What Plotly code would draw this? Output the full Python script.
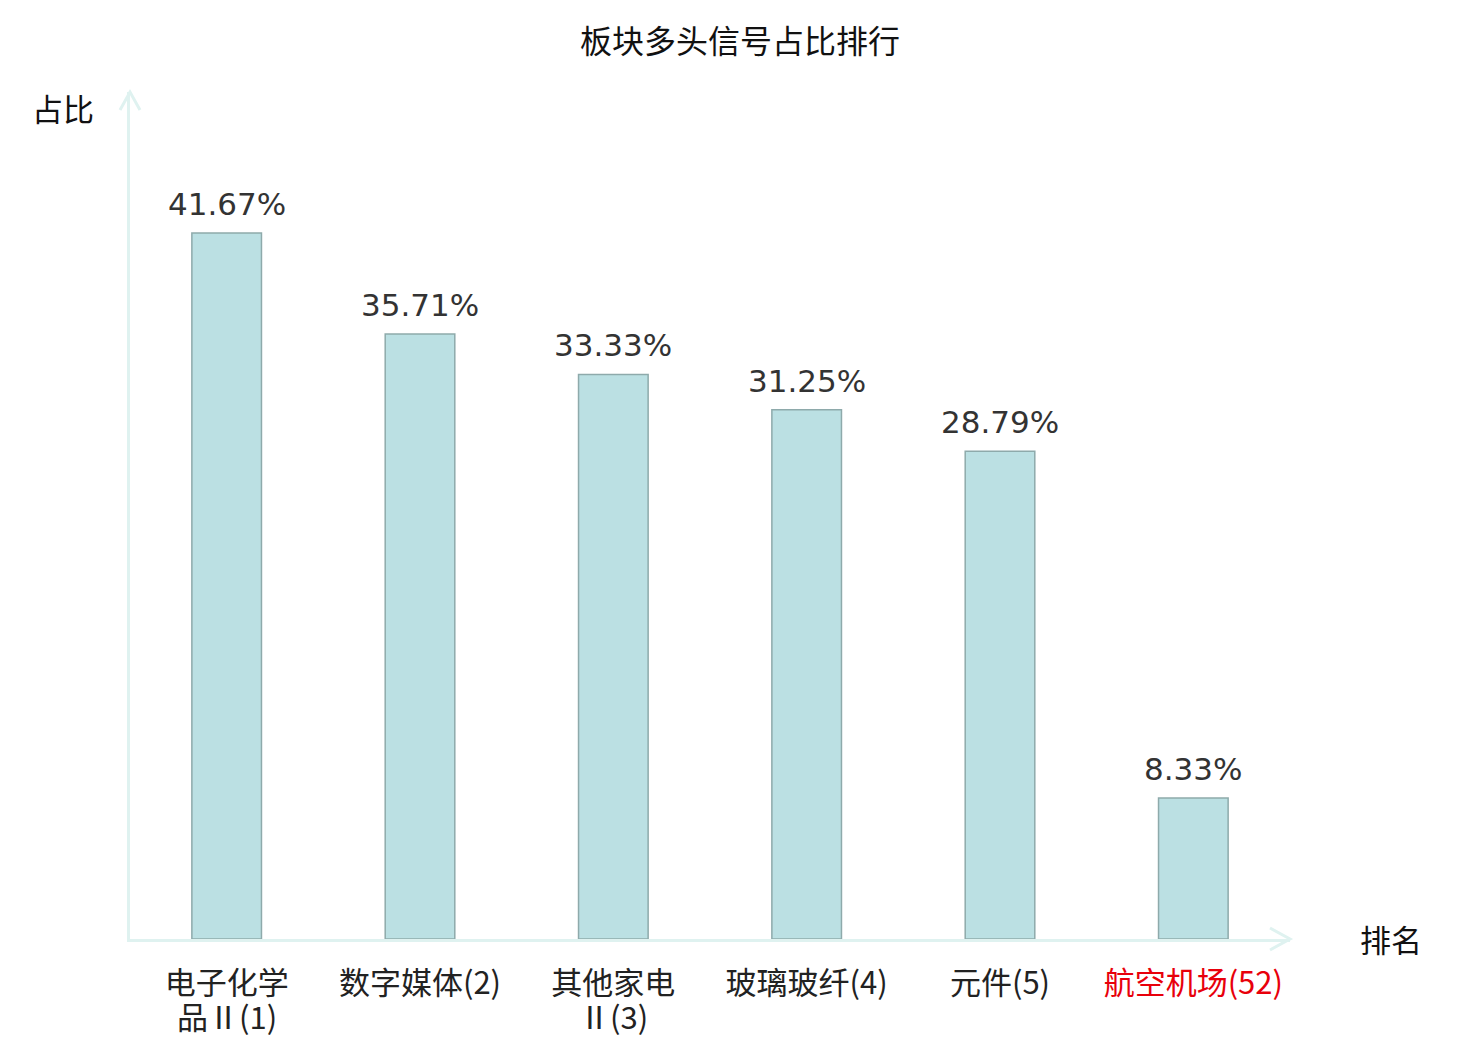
import plotly.graph_objects as go

# sector names (first line / wrapped second line), rank and bullish share
sectors_l1 = ["电子化学", "数字媒体", "其他家电", "玻璃玻纤", "元件", "航空机场"]
sectors_l2 = ["品Ⅱ", "", "Ⅱ", "", "", ""]
ranks = [1, 2, 3, 4, 5, 52]
shares = [41.67, 35.71, 33.33, 31.25, 28.79, 8.33]
highlight = [False, False, False, False, False, True]

axis_col = "#dff2f0"
font_fam = "DejaVu Sans, Noto Sans CJK SC, sans-serif"
tick_fam = "Noto Sans CJK SC"

xs = list(range(len(shares)))

ticktext = []
for a, b, r, h in zip(sectors_l1, sectors_l2, ranks, highlight):
    lab = a if b else a + "(" + str(r) + ")"
    if h:
        lab = '<span style="color:#e8000b">' + lab + "</span>"
    ticktext.append(lab)

fig = go.Figure(go.Bar(
    x=xs,
    y=shares,
    width=0.36,
    marker=dict(color="#bbe0e3", line=dict(color="#8eaaab", width=1.5)),
    hovertemplate="%{y:.2f}%<extra></extra>",
))

# value labels above bars
for x, v in zip(xs, shares):
    fig.add_annotation(x=x, y=v, text="%.2f%%" % v, showarrow=False,
                       yanchor="bottom", yshift=9,
                       font=dict(size=31, color="#333333", family=font_fam))

# wrapped second line of long category names (tighter than plotly's line height)
for x, a, b, r, h in zip(xs, sectors_l1, sectors_l2, ranks, highlight):
    if b:
        fig.add_annotation(x=x, y=0, yref="paper", text=b + "(" + str(r) + ")",
                           showarrow=False, yanchor="middle", yshift=-76,
                           font=dict(size=31, family=tick_fam,
                                     color="#e8000b" if h else "#222222"))

# page has an 8px body offset, so everything is placed 8px up/left
fig.update_layout(
    width=1480, height=1040,
    plot_bgcolor="white", paper_bgcolor="white",
    margin=dict(l=122, r=198, t=84, b=109, autoexpand=False),
    font=dict(family=font_fam, color="#222222"),
    showlegend=False,
    title=dict(text="板块多头信号占比排行", x=(740 - 8) / 1480, xanchor="center",
               y=1 - 34 / 1040, yanchor="middle",
               font=dict(size=32, color="#111111", family=font_fam)),
    xaxis=dict(
        range=[-0.5, 5.5], tickmode="array",
        tickvals=xs, ticktext=ticktext,
        showline=True, linecolor=axis_col, linewidth=3,
        showgrid=False, zeroline=False, ticks="", automargin=False,
        ticklabelstandoff=15,
        tickfont=dict(size=31, color="#222222", family=tick_fam),
    ),
    yaxis=dict(
        range=[0, 50], showline=True, linecolor=axis_col, linewidth=3,
        showgrid=False, zeroline=False, showticklabels=False, ticks="",
        automargin=False,
    ),
)

# arrow heads on the two axes
fig.add_shape(type="path", xref="paper", yref="paper",
              xsizemode="pixel", ysizemode="pixel", xanchor=1, yanchor=0,
              path="M -20,11 L 0,0 L -20,-11",
              line=dict(color=axis_col, width=3))
fig.add_shape(type="path", xref="paper", yref="paper",
              xsizemode="pixel", ysizemode="pixel", xanchor=0, yanchor=1,
              path="M -10,-18 L 0,0 L 10,-18",
              line=dict(color=axis_col, width=3))

# axis names
fig.add_annotation(text="占比", xref="paper", yref="paper",
                   x=-67 / 1160, y=1 + (92 - 110) / 847,
                   xanchor="center", yanchor="middle", showarrow=False,
                   font=dict(size=31, color="#111111"))
fig.add_annotation(text="排名", xref="paper", yref="paper",
                   x=1 + (1391 - 1290) / 1160, y=(939 - 941) / 847,
                   xanchor="center", yanchor="middle", showarrow=False,
                   font=dict(size=31, color="#111111"))

fig.write_html("out.html")
